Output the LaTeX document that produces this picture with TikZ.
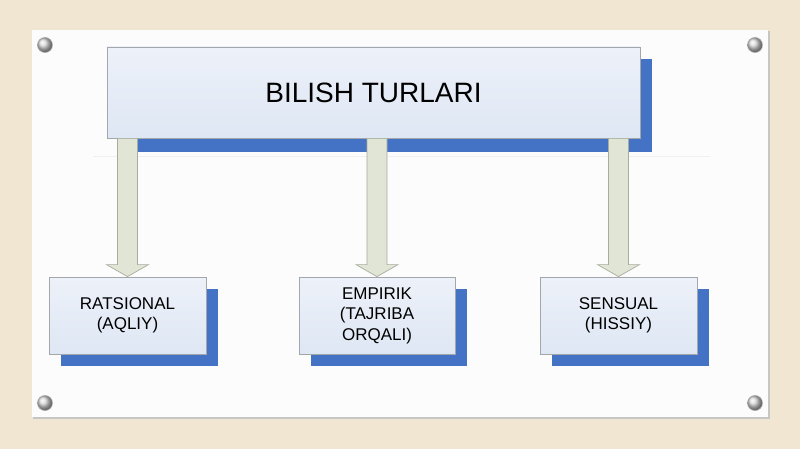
\documentclass[tikz,border=0pt]{standalone}
\usepackage{fontspec}
\setmainfont{Liberation Sans}
\usetikzlibrary{calc, shadows}

\definecolor{wallbeige}{HTML}{F0E6D1}
\definecolor{boxtop}{HTML}{EDF1F9}
\definecolor{boxbottom}{HTML}{DEE7F4}
\definecolor{boxedge}{HTML}{A3A6AA}
\definecolor{shadowblue}{HTML}{4472C4}
\definecolor{arrowfill}{HTML}{E1E5D5}
\definecolor{arrowedge}{HTML}{A8AC9C}

\tikzset{
    kindbox/.style={draw=boxedge, line width=0.8pt, top color=boxtop, bottom color=boxbottom,
        align=center, inner sep=0pt, minimum width=157pt, minimum height=77pt,
        font=\fontsize{17}{20.5}\selectfont,
        drop shadow={shadow xshift=12pt, shadow yshift=-12pt, fill=shadowblue, opacity=1}},
    headbox/.style={kindbox, minimum width=533pt, minimum height=91pt,
        font=\fontsize{28}{32}\selectfont,
        drop shadow={shadow xshift=12pt, shadow yshift=-14pt, fill=shadowblue, opacity=1}},
    downarrow/.style={fill=arrowfill, draw=arrowedge, line width=0.7pt},
    pin/.style={shading=ball, ball color=gray!30, draw=gray!70, line width=0.6pt}
}

% block arrow from the head box down to a kind box
\newcommand{\blockarrow}[2]{
    \draw[downarrow] ($(#1.south -| #2.north)+(-10,0)$) -- ($(#2.north)+(-10,-12)$)
        -- ($(#2.north)+(-21,-12)$) -- (#2.north) -- ($(#2.north)+(21,-12)$)
        -- ($(#2.north)+(10,-12)$) -- ($(#1.south -| #2.north)+(10,0)$) -- cycle;
}

\begin{document}
\begin{tikzpicture}[x=1pt, y=-1pt]
    \useasboundingbox (0,0) rectangle (800,449);
    \fill[wallbeige] (0,0) rectangle (800,449);

    % board
    \fill[gray!45] (33,31) rectangle (770,419);
    \fill[white!98!gray] (32,30) rectangle (768,417);
    \draw[gray!12, line width=1pt] (93,157) -- (710,157);
    \foreach \x/\y in {45/45, 755/45, 45/403, 755/403}
        \shadedraw[pin] (\x,\y) circle (7.5);

    \node[headbox] (turlar) at (373.5,92.5) {BILISH TURLARI};

    \node[kindbox] (ratsional) at (127.5,315.5) {RATSIONAL\\(AQLIY)};
    \node[kindbox, minimum width=156pt] (empirik) at (377,315.5) {EMPIRIK\\(TAJRIBA\\ORQALI)};
    \node[kindbox] (sensual) at (618.5,315.5) {SENSUAL\\(HISSIY)};

    \blockarrow{turlar}{ratsional}
    \blockarrow{turlar}{empirik}
    \blockarrow{turlar}{sensual}
\end{tikzpicture}
\end{document}
